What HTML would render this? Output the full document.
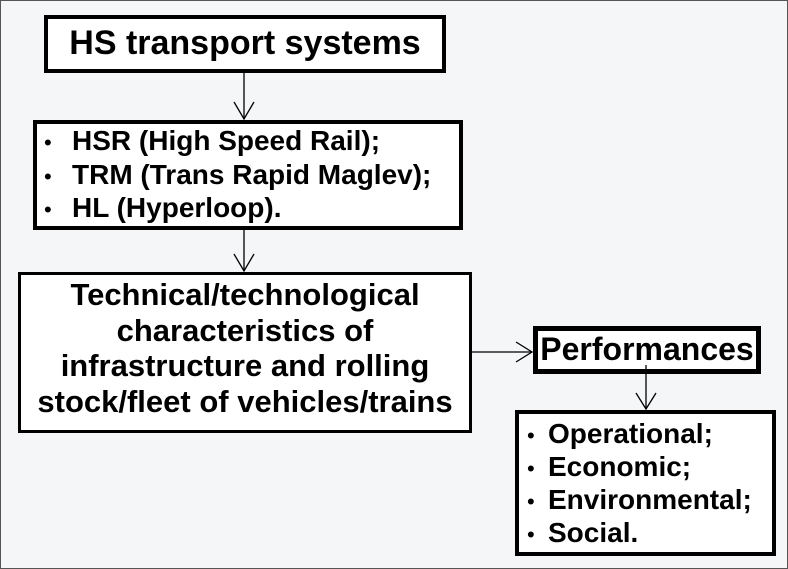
<!DOCTYPE html>
<html><head><style>
html,body{margin:0;padding:0}
body{width:788px;height:569px;position:relative;background:#f5f6f8;font-family:"Liberation Sans",Arial,sans-serif;font-weight:bold;color:#000;overflow:hidden}
.frame{position:absolute;left:0;top:0;width:786px;height:567px;border:1px solid #555}
.b{position:absolute;background:#fff;border:4px solid #000;box-sizing:border-box}
.t{position:absolute;white-space:nowrap}
.bl{display:inline-block;font-weight:normal;font-size:22px;line-height:0}
svg{position:absolute;left:0;top:0}
</style></head><body>
<div class="frame"></div>
<div class="b" style="left:44px;top:15px;width:402px;height:58px"></div>
<div class="t" style="left:44px;top:24px;width:402px;text-align:center;font-size:34px;line-height:38px">HS transport systems</div>

<div class="b" style="left:33px;top:120px;width:430px;height:110px"></div>
<div class="t" style="left:44px;top:124px;font-size:28px;line-height:33.5px"><span class="bl" style="width:28px">•</span>HSR (High Speed Rail);<br><span class="bl" style="width:28px">•</span>TRM (Trans Rapid Maglev);<br><span class="bl" style="width:28px">•</span>HL (Hyperloop).</div>

<div class="b" style="left:18px;top:272px;width:454px;height:161px;border-width:3px"></div>
<div class="t" style="left:18px;top:277px;width:454px;text-align:center;font-size:31px;line-height:35.5px">Technical/technological<br>characteristics of<br>infrastructure and rolling<br>stock/fleet of vehicles/trains</div>

<div class="b" style="left:533px;top:326px;width:228px;height:48px;border-width:5px"></div>
<div class="t" style="left:533px;top:331px;width:228px;text-align:center;font-size:32px;line-height:36px">Performances</div>

<div class="b" style="left:515px;top:410px;width:261px;height:146px"></div>
<div class="t" style="left:527px;top:417px;font-size:28px;line-height:33px"><span class="bl" style="width:21px">•</span>Operational;<br><span class="bl" style="width:21px">•</span>Economic;<br><span class="bl" style="width:21px">•</span>Environmental;<br><span class="bl" style="width:21px">•</span>Social.</div>

<svg width="788" height="569">
<g stroke="#000" stroke-width="1.3" fill="none">
<line x1="244" y1="73" x2="244" y2="119"/><polyline points="234,102 244,119 254,102"/>
<line x1="244" y1="230" x2="244" y2="271"/><polyline points="234,254 244,271 254,254"/>
<line x1="472" y1="352" x2="532" y2="352"/><polyline points="516,342 532,352 516,362"/>
<line x1="646" y1="365" x2="646" y2="409"/><polyline points="636,393 646,409 656,393"/>
</g>
</svg>
</body></html>
